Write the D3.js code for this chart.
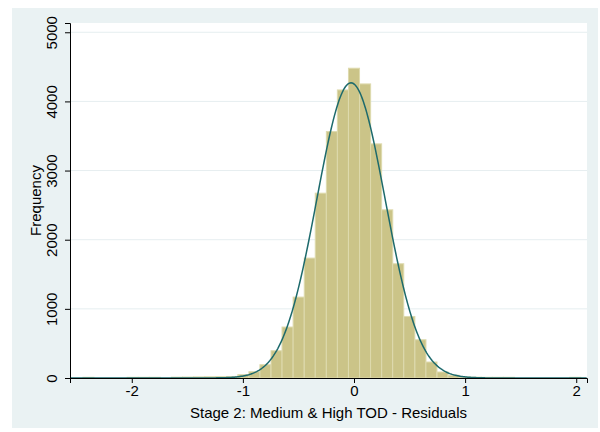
<!DOCTYPE html>
<html>
<head>
<meta charset="utf-8">
<script src="https://d3js.org/d3.v7.min.js"></script>
<style>
  body { margin: 0; background: #fff; }
  text { font-family: "Liberation Sans", Arial, sans-serif; fill: #000; }
</style>
</head>
<body>
<script>
// histogram bins (centre of each bin, residual units) and counts
var binCenters = [-2.390, -2.291, -2.191, -2.092, -1.992, -1.892, -1.793, -1.693, -1.594, -1.494,
                  -1.394, -1.295, -1.195, -1.096, -0.996, -0.896, -0.797, -0.697, -0.598, -0.498,
                  -0.398, -0.299, -0.199, -0.100, 0.000, 0.100, 0.199, 0.299, 0.398, 0.498,
                  0.598, 0.697, 0.797, 0.896, 0.996, 1.096, 1.195, 1.295, 1.394, 1.494,
                  1.594, 1.693, 1.793, 1.892, 1.992];
var counts = [10, 0, 0, 0, 10, 10, 10, 0, 12, 14,
              16, 18, 20, 22, 48, 91, 192, 394, 737, 1170,
              1734, 2673, 3564, 4166, 4480, 4253, 3386, 2432, 1652, 890,
              553, 231, 87, 40, 14, 12, 10, 10, 10, 0,
              0, 0, 0, 0, 10];
var binWidth = 0.0996;

// fitted normal overlay
var fitMean = -0.027;
var fitSd = 0.307;

var xTicks = [-2, -1, 0, 1, 2];
var yTicks = [0, 1000, 2000, 3000, 4000, 5000];

var W = 600, H = 432;
var margin = {left: 70, right: 13, top: 23, bottom: 54};

var svg = d3.select("body").append("svg")
    .attr("width", W)
    .attr("height", H);

// outer graph region
svg.append("rect")
    .attr("x", 12).attr("y", 8)
    .attr("width", 586).attr("height", 420)
    .attr("fill", "#eaf2f3");

var x = d3.scaleLinear()
    .domain([-2.556, 2.097])
    .range([margin.left, W - margin.right]);

var y = d3.scaleLinear()
    .domain([0, 5134])
    .range([H - margin.bottom, margin.top]);

// plot region
svg.append("rect")
    .attr("x", margin.left).attr("y", margin.top)
    .attr("width", W - margin.right - margin.left)
    .attr("height", H - margin.bottom - margin.top)
    .attr("fill", "#fff");

// gridlines
svg.append("g")
    .selectAll("line")
    .data(yTicks.slice(1))
    .enter().append("line")
    .attr("x1", margin.left).attr("x2", W - margin.right)
    .attr("y1", d => y(d)).attr("y2", d => y(d))
    .attr("stroke", "#e6eef0")
    .attr("stroke-width", 1);

// bars
svg.append("g")
    .selectAll("rect")
    .data(binCenters.map((c, i) => ({c: c, n: counts[i]})).filter(d => d.n > 0))
    .enter().append("rect")
    .attr("x", d => x(d.c - binWidth / 2))
    .attr("width", d => x(d.c + binWidth / 2) - x(d.c - binWidth / 2))
    .attr("y", d => y(d.n))
    .attr("height", d => y(0) - y(d.n))
    .attr("fill", "#cbc488")
    .attr("stroke", "#dedaae")
    .attr("stroke-width", 1);

// normal density scaled to counts
var total = d3.sum(counts);
var xs = d3.range(-2.556, 2.1, 0.01);
var line = d3.line()
    .x(d => x(d))
    .y(d => y(total * binWidth / (fitSd * Math.sqrt(2 * Math.PI)) *
               Math.exp(-0.5 * Math.pow((d - fitMean) / fitSd, 2))));
svg.append("path")
    .datum(xs)
    .attr("d", line)
    .attr("fill", "none")
    .attr("stroke", "#1d6a6c")
    .attr("stroke-width", 1.5);

// axes (plain hyphen minus, like the original)
var fmt = d => String(d);

var xAxis = svg.append("g")
    .attr("transform", "translate(0," + (H - margin.bottom) + ")")
    .call(d3.axisBottom(x).tickValues(xTicks).tickSize(5).tickPadding(2).tickFormat(fmt));
xAxis.select(".domain").attr("stroke", "#000");
xAxis.selectAll(".tick line").attr("stroke", "#000");
xAxis.selectAll(".tick text").attr("font-size", 15).attr("font-family", "Liberation Sans, Arial, sans-serif");

var yAxis = svg.append("g")
    .attr("transform", "translate(" + margin.left + ",0)")
    .call(d3.axisLeft(y).tickValues(yTicks).tickSize(5).tickFormat(fmt));
yAxis.select(".domain").attr("stroke", "#000");
yAxis.selectAll(".tick line").attr("stroke", "#000");
yAxis.selectAll(".tick text")
    .attr("font-size", 15)
    .attr("font-family", "Liberation Sans, Arial, sans-serif")
    .attr("x", 0).attr("dy", 0)
    .attr("text-anchor", "middle")
    .attr("transform", "translate(-13,0) rotate(-90)");

// axis titles
svg.append("text")
    .attr("x", (margin.left + W - margin.right) / 2)
    .attr("y", 418)
    .attr("text-anchor", "middle")
    .attr("font-size", 15)
    .text("Stage 2: Medium & High TOD - Residuals");

svg.append("text")
    .attr("transform", "translate(41," + ((margin.top + H - margin.bottom) / 2) + ") rotate(-90)")
    .attr("text-anchor", "middle")
    .attr("font-size", 15)
    .text("Frequency");
</script>
</body>
</html>
